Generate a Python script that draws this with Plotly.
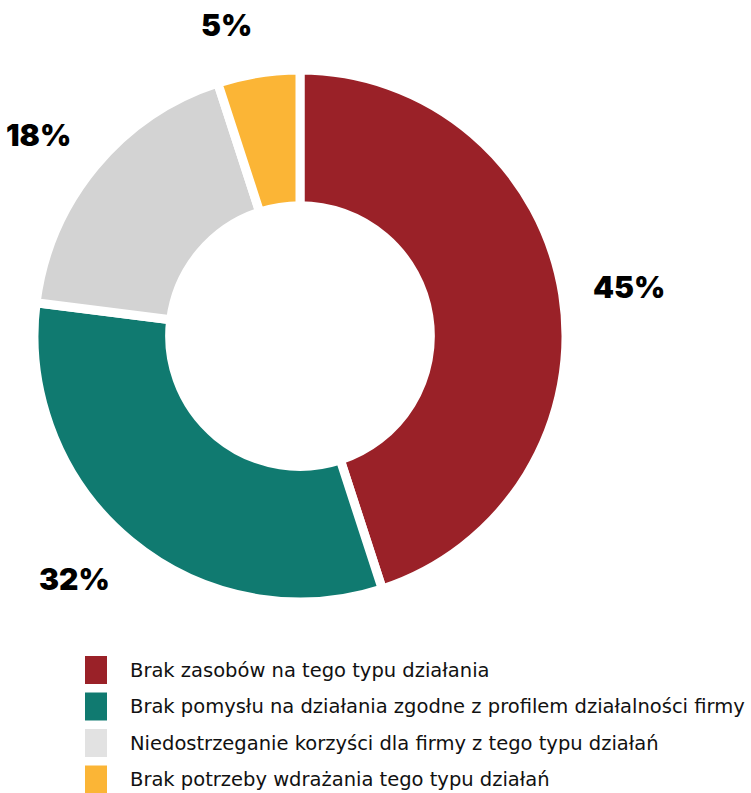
import math
import plotly.graph_objects as go

# Survey answers and their shares (%)
categories = [
    "Brak zasobów na tego typu działania",
    "Brak pomysłu na działania zgodne z profilem działalności firmy",
    "Niedostrzeganie korzyści dla firmy z tego typu działań",
    "Brak potrzeby wdrażania tego typu działań",
]
values = [45, 32, 18, 5]
slice_colors = ["#9A2128", "#107A70", "#D3D3D3", "#FBB536"]
legend_colors = ["#9A2128", "#107A70", "#E2E2E2", "#FBB536"]

W, H = 751, 793
cx, cy, r = 300, 336, 266  # donut centre and radius in pixels

fig = go.Figure(go.Pie(
    labels=categories,
    values=values,
    hole=0.49,
    sort=False,
    direction="clockwise",
    rotation=0,
    marker=dict(colors=slice_colors, line=dict(color="white", width=9)),
    textinfo="none",
    hoverinfo="label+percent",
    showlegend=False,
    domain=dict(x=[(cx - r) / W, (cx + r) / W],
                y=[(H - cy - r) / H, (H - cy + r) / H]),
))

# percentage labels outside each slice, anchored on the side facing the ring
label_rx, label_ry = 295, 315
total = sum(values)
acc = 0
for v in values:
    mid = (acc + v / 2) / total * 2 * math.pi
    acc += v
    sx, cy_ = math.sin(mid), math.cos(mid)
    px = cx + label_rx * sx
    py = cy - label_ry * cy_
    fig.add_annotation(
        x=px / W, y=1 - py / H, xref="paper", yref="paper",
        text=f"{v}%", showarrow=False,
        xanchor="left" if sx > 0 else "right",
        yanchor="middle",
        font=dict(family="Inter", size=30, color="#000000", weight=900),
    )

# legend drawn as square swatches with text
leg_x0, leg_y0, leg_dy = 85, 670, 36.5
for i, (name, col) in enumerate(zip(categories, legend_colors)):
    yc = leg_y0 + i * leg_dy
    fig.add_shape(
        type="rect", xref="paper", yref="paper",
        x0=leg_x0 / W, x1=(leg_x0 + 22) / W,
        y0=1 - (yc + 14) / H, y1=1 - (yc - 14) / H,
        fillcolor=col, line=dict(width=0),
    )
    fig.add_annotation(
        x=128 / W, y=1 - yc / H, xref="paper", yref="paper",
        text=name, showarrow=False, xanchor="left", yanchor="middle",
        font=dict(family="DejaVu Sans", size=19.5, color="#111111"),
    )

fig.update_layout(
    width=W, height=H,
    margin=dict(l=0, r=0, t=0, b=0),
    paper_bgcolor="white", plot_bgcolor="white",
)

fig.write_html("out.html")
